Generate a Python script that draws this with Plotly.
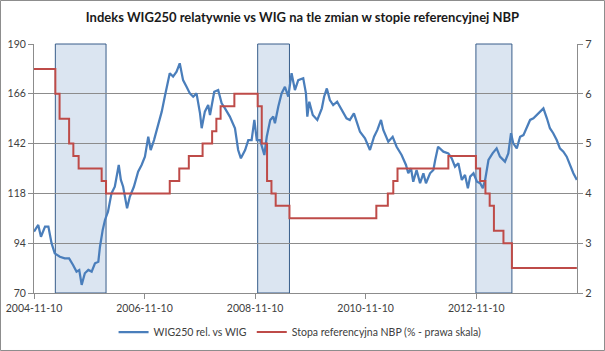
import plotly.graph_objects as go

# WIG250 relative vs WIG (left axis)
wig_dates = [
    "2004-11-10", "2004-12-08", "2004-12-26", "2005-01-22", "2005-02-13", "2005-03-06",
    "2005-03-27", "2005-04-30", "2005-06-01", "2005-06-30", "2005-07-26", "2005-08-18",
    "2005-09-05", "2005-09-21", "2005-10-12", "2005-11-04", "2005-11-26", "2005-12-18",
    "2006-01-09", "2006-01-20", "2006-02-07", "2006-02-22", "2006-03-14", "2006-04-06",
    "2006-04-28", "2006-05-24", "2006-06-07", "2006-06-22", "2006-07-18", "2006-08-05",
    "2006-09-01", "2006-09-29", "2006-10-22", "2006-11-13", "2006-12-05", "2006-12-21",
    "2007-01-12", "2007-02-10", "2007-03-04", "2007-03-24", "2007-04-26", "2007-05-18",
    "2007-06-10", "2007-07-01", "2007-07-23", "2007-08-15", "2007-09-06", "2007-09-28",
    "2007-10-20", "2007-11-12", "2007-11-23", "2007-12-14", "2008-01-05", "2008-01-17",
    "2008-02-14", "2008-03-11", "2008-04-03", "2008-04-25", "2008-05-27", "2008-06-30",
    "2008-07-21", "2008-08-08", "2008-09-05", "2008-09-26", "2008-10-18", "2008-11-05",
    "2008-11-21", "2008-12-13", "2008-12-24", "2009-01-10", "2009-01-26", "2009-02-18",
    "2009-03-10", "2009-03-21", "2009-04-12", "2009-05-04", "2009-05-26", "2009-06-17",
    "2009-07-09", "2009-07-31", "2009-08-22", "2009-09-24", "2009-10-12", "2009-10-21",
    "2009-11-03", "2009-11-26", "2009-12-26", "2010-01-25", "2010-02-09", "2010-02-27",
    "2010-03-19", "2010-04-10", "2010-05-06", "2010-06-04", "2010-07-07", "2010-07-29",
    "2010-08-25", "2010-09-12", "2010-10-04", "2010-11-06", "2010-12-09", "2011-01-05",
    "2011-01-27", "2011-02-20", "2011-03-07", "2011-04-09", "2011-05-08", "2011-06-03",
    "2011-07-06", "2011-08-04", "2011-08-19", "2011-09-06", "2011-09-21", "2011-10-13",
    "2011-11-05", "2011-11-27", "2011-12-14", "2012-01-10", "2012-02-01", "2012-02-13",
    "2012-03-03", "2012-04-07", "2012-05-10", "2012-06-01", "2012-06-23", "2012-07-15",
    "2012-08-07", "2012-08-28", "2012-09-16", "2012-10-01", "2012-10-23", "2012-11-15",
    "2012-12-06", "2012-12-24", "2013-01-08", "2013-01-30", "2013-02-26", "2013-03-25",
    "2013-04-16", "2013-05-19", "2013-06-10", "2013-06-28", "2013-07-13", "2013-08-05",
    "2013-08-27", "2013-09-18", "2013-10-03", "2013-11-01", "2013-11-23", "2013-12-15",
    "2014-01-07", "2014-01-28", "2014-02-20", "2014-03-12", "2014-04-03", "2014-04-26",
    "2014-05-17", "2014-06-09", "2014-07-01", "2014-07-23", "2014-08-14", "2014-09-06",
]
wig_values = [
    99.6, 102.8, 97.1, 102.0, 102.0, 94.0,
    89.1, 87.5, 86.7, 86.7, 83.5, 80.3,
    81.1, 73.9, 79.5, 81.1, 80.3, 84.3,
    85.1, 92.3, 100.4, 105.2, 109.2, 118.0,
    121.2, 131.7, 124.5, 121.2, 110.8, 116.4,
    121.2, 128.5, 131.7, 135.7, 145.3, 138.9,
    143.7, 151.8, 157.4, 164.6, 175.9, 174.3,
    176.7, 180.7, 172.6, 169.4, 166.2, 164.6,
    166.2, 156.6, 149.4, 157.4, 160.6, 155.8,
    167.0, 167.8, 161.4, 159.0, 155.0, 149.4,
    138.9, 134.9, 138.9, 143.7, 143.7, 153.4,
    143.7, 143.7, 140.5, 136.5, 145.3, 153.4,
    155.0, 151.8, 159.8, 166.2, 169.4, 164.6,
    175.9, 167.8, 172.6, 173.5, 166.2, 155.0,
    162.2, 155.8, 153.4, 159.0, 164.6, 168.6,
    163.0, 160.6, 162.2, 158.2, 154.2, 153.4,
    156.6, 152.6, 147.7, 144.6, 138.9, 145.3,
    148.6, 153.4, 148.6, 142.9, 145.3, 140.5,
    136.5, 131.7, 127.7, 130.1, 123.6, 129.3,
    122.9, 127.7, 122.9, 127.7, 129.3, 134.1,
    140.5, 138.1, 137.3, 134.9, 130.9, 132.5,
    124.5, 126.9, 120.5, 126.1, 127.7, 123.6,
    122.9, 120.5, 124.5, 134.1, 137.3, 139.7,
    135.7, 133.3, 137.3, 147.0, 142.1, 139.7,
    145.3, 146.1, 148.6, 153.4, 154.2, 155.8,
    157.4, 159.0, 154.2, 149.4, 147.0, 143.7,
    139.7, 138.1, 135.7, 131.7, 127.7, 124.5,
]

# NBP reference rate (right axis), step changes
rate_dates = [
    "2004-11-10", "2005-03-31", "2005-04-28", "2005-06-30", "2005-07-28", "2005-09-01",
    "2006-01-31", "2006-03-01", "2007-04-26", "2007-06-28", "2007-08-30", "2007-11-29",
    "2008-01-31", "2008-02-28", "2008-03-27", "2008-06-26", "2008-11-27", "2008-12-24",
    "2009-01-28", "2009-02-26", "2009-03-26", "2009-06-25", "2011-01-20", "2011-04-06",
    "2011-05-12", "2011-06-09", "2012-05-10", "2012-11-08", "2012-12-06", "2013-01-10",
    "2013-02-07", "2013-03-07", "2013-05-09", "2013-07-04", "2014-09-06",
]
rate_values = [
    6.50, 6.00, 5.50, 5.00, 4.75, 4.50,
    4.25, 4.00, 4.25, 4.50, 4.75, 5.00,
    5.25, 5.50, 5.75, 6.00, 5.75, 5.00,
    4.25, 4.00, 3.75, 3.50, 3.75, 4.00,
    4.25, 4.50, 4.75, 4.50, 4.25, 4.00,
    3.75, 3.25, 3.00, 2.50, 2.50,
]

# Easing periods (shaded)
ease_start = ["2005-03-31", "2008-11-27", "2012-11-08"]
ease_end = ["2006-03-01", "2009-06-25", "2013-07-04"]

x_tick_vals = ["2004-11-10", "2006-11-10", "2008-11-10", "2010-11-10", "2012-11-10"]
x_tick_text = ["2004-11-10", "2006-11-10", "2008-11-10", "2010-11-10", "2012-11-10"]
left_ticks = [70, 94, 118, 142, 166, 190]
right_ticks = [2, 3, 4, 5, 6, 7]

title_text = "Indeks WIG250 relatywnie vs WIG na tle zmian w stopie referencyjnej NBP"
name_wig = "WIG250 rel. vs WIG"
name_rate = "Stopa referencyjna NBP (% - prawa skala)"

FONT = "Lato"
TXT = "#404040"
GRID = "#8c8c8c"

fig = go.Figure()
fig.add_trace(go.Scatter(
    x=wig_dates, y=wig_values, name=name_wig, mode="lines",
    line=dict(color="#4a7ebb", width=2.25), yaxis="y",
))
fig.add_trace(go.Scatter(
    x=rate_dates, y=rate_values, name=name_rate, mode="lines",
    line=dict(color="#be4b48", width=2, shape="hv"), yaxis="y2",
))

shapes = []
for s, e in zip(ease_start, ease_end):
    shapes.append(dict(
        type="rect", xref="x", yref="paper", x0=s, x1=e, y0=0, y1=1,
        fillcolor="#dbe5f1", line=dict(color="#385d8a", width=1), layer="below",
    ))
# chart border
shapes.append(dict(
    type="rect", xref="paper", yref="paper",
    x0=-0.0617, x1=1.0507, y0=-0.2309, y1=1.1747,
    line=dict(color="#8c8c8c", width=1), fillcolor="rgba(0,0,0,0)", layer="below",
))

fig.update_layout(
    width=605, height=351,
    margin=dict(l=34, r=28, t=44, b=58, autoexpand=False),
    paper_bgcolor="white", plot_bgcolor="white",
    font=dict(family=FONT, size=10, color=TXT),
    title=dict(
        text="<b>" + title_text + "</b>", x=0.5, xanchor="center",
        y=1 - 17 / 351, yanchor="middle",
        font=dict(family=FONT, size=13, color="#1a1a1a"),
        automargin=False,
    ),
    shapes=shapes,
    showlegend=True,
    legend=dict(
        orientation="h", x=0.49, xanchor="center",
        yref="container", y=1 - 332 / 351, yanchor="middle",
        font=dict(family=FONT, size=10.5, color=TXT), bgcolor="rgba(0,0,0,0)",
        itemwidth=30, tracegroupgap=0,
    ),
    xaxis=dict(
        type="date", range=["2004-11-10", "2014-09-07"],
        tickvals=x_tick_vals, ticktext=x_tick_text,
        showgrid=False, showline=True, linecolor=GRID, linewidth=1,
        ticks="outside", ticklen=5, tickcolor=GRID,
        tickfont=dict(family=FONT, size=10.5, color=TXT),
        zeroline=False, automargin=False,
    ),
    yaxis=dict(
        range=[70, 190], tickvals=left_ticks,
        showgrid=True, gridcolor=GRID, gridwidth=1,
        showline=True, linecolor=GRID, linewidth=1,
        ticks="outside", ticklen=5, tickcolor=GRID,
        tickfont=dict(family=FONT, size=10.5, color=TXT),
        zeroline=False, automargin=False,
    ),
    yaxis2=dict(
        range=[2, 7], tickvals=right_ticks, overlaying="y", side="right",
        showgrid=False, showline=True, linecolor=GRID, linewidth=1,
        ticks="outside", ticklen=5, tickcolor=GRID,
        tickfont=dict(family=FONT, size=11, color=TXT),
        zeroline=False, automargin=False,
    ),
)

fig.write_html("out.html")
